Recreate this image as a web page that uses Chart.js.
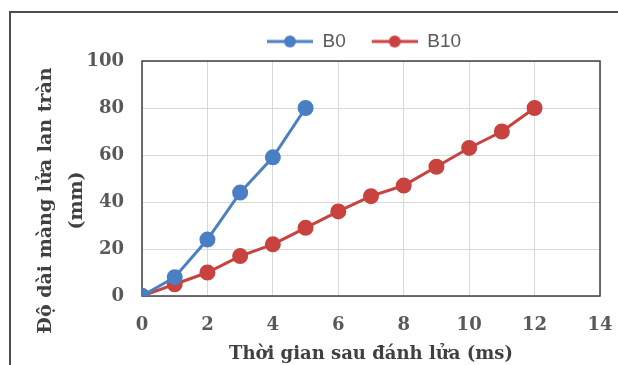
<!DOCTYPE html>
<html>
<head>
<meta charset="utf-8">
<script src="https://cdn.jsdelivr.net/npm/chart.js@4"></script>
<style>
  html, body { margin: 0; padding: 0; background: #fff; }
  #wrap { position: relative; width: 618px; height: 365px; }
  #frame { position: absolute; left: 9px; top: 11px; width: 620px; height: 370px; border: 2px solid #4d4d4d; box-sizing: border-box; pointer-events: none; }
</style>
</head>
<body>
<div id="wrap">
  <canvas id="chart" width="618" height="365"></canvas>
  <div id="frame"></div>
</div>
<script>
/* --- DATA --- */
const B0_X = [0, 1, 2, 3, 4, 5];
const B0_Y = [0, 8, 24, 44, 59, 80];
const B10_X = [0, 1, 2, 3, 4, 5, 6, 7, 8, 9, 10, 11, 12];
const B10_Y = [0, 5, 10, 17, 22, 29, 36, 42.5, 47, 55, 63, 70, 80];
const SERIES_NAMES = ['B0', 'B10'];
const X_TITLE = 'Thời gian sau đánh lửa (ms)';
const Y_TITLE = ['Độ dài màng lửa lan tràn', '(mm)'];

const BLUE = '#4a7fc3';
const RED = '#c8423f';
const SERIF = "'DejaVu Serif', 'Liberation Serif', serif";

const toPoints = (xs, ys) => xs.map((x, i) => ({ x, y: ys[i] }));

// legend marker: short line with a dot, blank room on the left to space the items out
function legendMarker(color) {
  const c = document.createElement('canvas');
  c.width = 62; c.height = 14;
  const g = c.getContext('2d');
  g.strokeStyle = color; g.lineWidth = 3;
  g.beginPath(); g.moveTo(16, 7); g.lineTo(62, 7); g.stroke();
  g.fillStyle = color;
  g.beginPath(); g.arc(39, 7, 6, 0, Math.PI * 2); g.fill();
  return c;
}

// plot border drawn over grid
const plotBorder = {
  id: 'plotBorder',
  beforeDatasetsDraw(chart) {
    const { ctx, chartArea: a } = chart;
    ctx.save();
    ctx.strokeStyle = '#404040';
    ctx.lineWidth = 1.5;
    ctx.strokeRect(a.left, a.top, a.right - a.left, a.bottom - a.top);
    ctx.restore();
  }
};

// nudge the legend a little left, the original sits off-centre
const legendNudge = {
  id: 'legendNudge',
  afterLayout(chart) {
    if (!chart.legend) return;
    chart.legend.left -= 15;
    chart.legend.right -= 15;
  }
};

// two-line rotated y title, sits a bit below the plot's middle like the original
const yTitle = {
  id: 'yTitle',
  afterDraw(chart) {
    const { ctx, chartArea: a } = chart;
    const cy = (a.top + a.bottom) / 2 + 22;
    ctx.save();
    ctx.fillStyle = '#404040';
    ctx.font = `bold 19px ${SERIF}`;
    ctx.textAlign = 'center';
    ctx.textBaseline = 'middle';
    [46, 77].forEach((x, i) => {
      ctx.save();
      ctx.translate(x, cy);
      ctx.rotate(-Math.PI / 2);
      ctx.fillText(Y_TITLE[i], 0, 0);
      ctx.restore();
    });
    ctx.restore();
  }
};

const ctx = document.getElementById('chart').getContext('2d');
new Chart(ctx, {
  type: 'scatter',
  data: {
    datasets: [{
      label: SERIES_NAMES[0],
      data: toPoints(B0_X, B0_Y),
      borderColor: BLUE,
      backgroundColor: BLUE,
      showLine: true,
      borderWidth: 3,
      pointRadius: 6.5
    }, {
      label: SERIES_NAMES[1],
      data: toPoints(B10_X, B10_Y),
      borderColor: RED,
      backgroundColor: RED,
      showLine: true,
      borderWidth: 3,
      pointRadius: 6.5
    }]
  },
  options: {
    responsive: false,
    animation: false,
    layout: { padding: { left: 10, right: 18, top: 22, bottom: 0 } },
    elements: { point: { pointStyle: 'circle' } },
    plugins: {
      tooltip: { enabled: false },
      legend: {
        position: 'top',
        fullSize: false,
        labels: {
          usePointStyle: true,
          pointStyleWidth: 62,
          boxHeight: 14,
          color: '#595959',
          font: { family: "'Liberation Sans Narrow', 'Liberation Sans', sans-serif", size: 19 },
          padding: 10,
          generateLabels: (chart) => chart.data.datasets.map((d, i) => ({
            text: d.label,
            fontColor: '#595959',
            pointStyle: legendMarker(d.borderColor),
            datasetIndex: i,
            lineWidth: 0
          }))
        }
      }
    },
    scales: {
      x: {
        type: 'linear',
        min: 0, max: 14,
        afterFit: (scale) => { scale.height = 69; scale.paddingRight = 3; },
        ticks: { stepSize: 2, color: '#595959', font: { family: SERIF, size: 18, weight: 'bold' }, padding: 19 },
        grid: { color: '#d9d9d9', drawTicks: false },
        border: { display: false },
        title: { display: true, text: X_TITLE, color: '#404040', font: { family: SERIF, size: 18, weight: 'bold' }, padding: { top: 0, bottom: 0 } }
      },
      y: {
        min: 0, max: 100,
        afterFit: (scale) => { scale.width = 132; },
        ticks: { stepSize: 20, color: '#595959', font: { family: SERIF, size: 18, weight: 'bold' }, padding: 18 },
        grid: { color: '#d9d9d9', drawTicks: false },
        border: { display: false }
      }
    }
  },
  plugins: [plotBorder, yTitle, legendNudge]
});
</script>
</body>
</html>
